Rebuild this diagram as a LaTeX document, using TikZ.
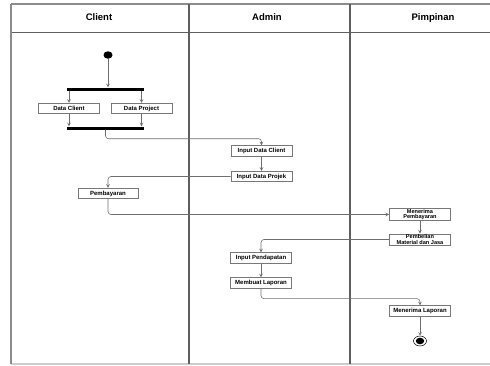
\documentclass[tikz,border=0pt]{standalone}
\usepackage{fontspec}
\setmainfont{Liberation Sans}
\usetikzlibrary{calc,shapes.geometric,arrows,positioning}
\definecolor{lanegray}{RGB}{95,95,95}
\definecolor{framegray}{RGB}{140,140,140}
\definecolor{boxgray}{RGB}{120,120,120}
\definecolor{flowgray}{RGB}{110,110,110}

\begin{document}
\begin{tikzpicture}[x=1pt, y=-1pt,
  activity/.style={rectangle, draw=boxgray, fill=white, line width=0.8pt, minimum width=61pt, minimum height=10.5pt, inner sep=0.5pt, align=center, font=\fontsize{6}{5.6}\selectfont\bfseries},
  oneline/.style={text height=4.4pt, text depth=1.2pt},
  twoline/.style={minimum height=11pt, inner sep=0.8pt, font=\fontsize{5.6}{5.3}\selectfont\bfseries},
  bar/.style={rectangle, fill=black, minimum width=77pt, minimum height=3pt, inner sep=0pt},
  startnode/.style={ellipse, fill=black, minimum width=9pt, minimum height=7.5pt, inner sep=0pt},
  endnode/.style={ellipse, draw=black, line width=0.5pt, minimum width=13pt, minimum height=10pt, inner sep=0pt, path picture={\fill (path picture bounding box.center) ellipse (4.2pt and 3.3pt);}},
  lanehead/.style={font=\fontsize{9.5}{9.5}\selectfont\bfseries, text height=7pt, text depth=2pt},
  arrow/.style={->, >=stealth, line width=0.6pt, color=flowgray, rounded corners=3pt}
]
  \useasboundingbox (0,0) rectangle (490,365);

  % swimlanes
  \draw[framegray, line width=1.4pt] (11,4) -- (490,4);
  \draw[lanegray, line width=0.9pt] (11,32) -- (490,32);
  \draw[black!20, line width=1.2pt] (11,364) -- (490,364);
  \draw[framegray, line width=1.4pt] (11,4) -- (11,364);
  \draw[lanegray, line width=1.8pt] (189,4) -- (189,364);
  \draw[lanegray, line width=1.8pt] (350,4) -- (350,364);
  \node[lanehead] (hclient) at (99,18) {Client};
  \node[lanehead] (hadmin) at (267,18) {Admin};
  \node[lanehead] (hpimpinan) at (433,18) {Pimpinan};

  % client
  \node[startnode] (start) at (108,55) {};
  \node[bar] (fork) at (105.5,89) {};
  \node[activity, oneline] (dclient) at (69,108.5) {Data Client};
  \node[activity, oneline] (dproject) at (141.5,108.5) {Data Project};
  \node[bar] (join) at (105.5,128) {};
  \node[activity, oneline, minimum width=60pt] (bayar) at (108,193.5) {Pembayaran};

  % admin
  \node[activity, oneline] (inclient) at (261.5,151) {Input Data Client};
  \node[activity, oneline] (inprojek) at (261.5,176.5) {Input Data Projek};
  \node[activity, oneline] (pendapatan) at (261,258) {Input Pendapatan};
  \node[activity, oneline] (laporan) at (261,283) {Membuat Laporan};

  % pimpinan
  \node[activity, twoline] (terimabayar) at (420,214.5) {Menerima\\Pembayaran};
  \node[activity, twoline] (pembelian) at (420,239.5) {Pembelian\\Material dan Jasa};
  \node[activity, oneline] (terimalap) at (420,311) {Menerima Laporan};
  \node[endnode] (end) at (420,341) {};

  \draw[arrow] (start) -- (start |- fork.north);
  \draw[arrow] (dclient.north |- fork.south) -- (dclient.north);
  \draw[arrow] (dproject.north |- fork.south) -- (dproject.north);
  \draw[arrow] (dclient.south) -- (dclient.south |- join.north);
  \draw[arrow] (dproject.south) -- (dproject.south |- join.north);
  \draw[arrow] (join.south) -- ++(0,9) -| (inclient.north);
  \draw[arrow] (inclient) -- (inprojek);
  \draw[arrow] (inprojek.west) -| (bayar.north);
  \draw[arrow] (bayar.south) |- (terimabayar.west);
  \draw[arrow] (terimabayar) -- (pembelian);
  \draw[arrow] (pembelian.west) -| (pendapatan.north);
  \draw[arrow] (pendapatan) -- (laporan);
  \draw[arrow] (laporan.south) -- ++(0,10) -| (terimalap.north);
  \draw[arrow] (terimalap) -- (end);
\end{tikzpicture}
\end{document}
